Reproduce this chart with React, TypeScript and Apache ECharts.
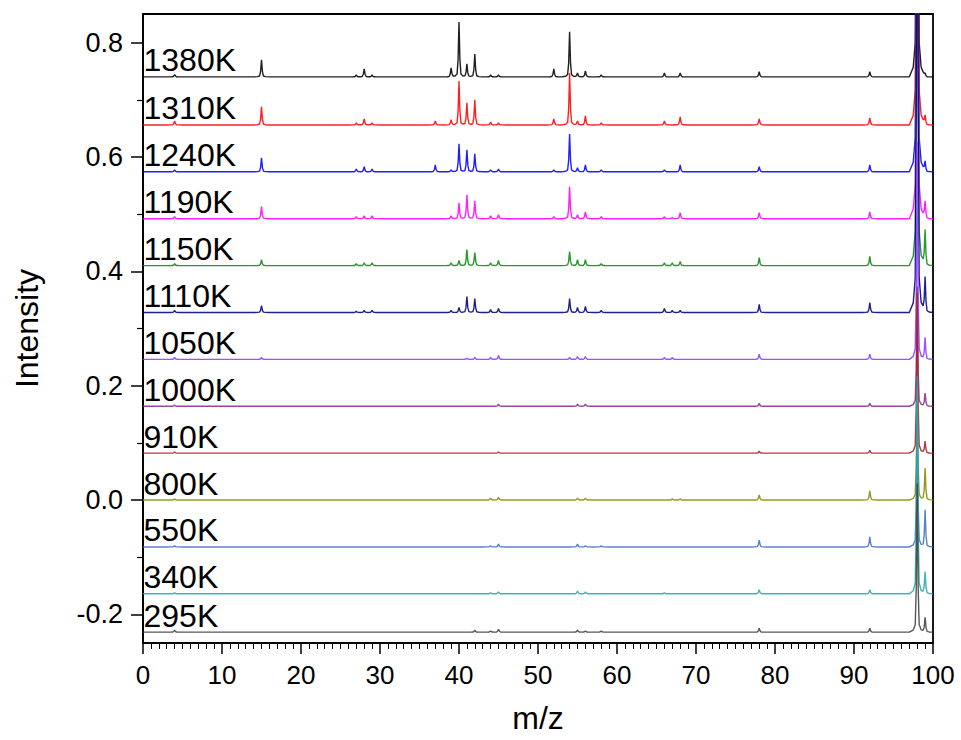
import React, { useEffect, useRef } from "react";
import * as echarts from "echarts";

// ---- data ----
const LABELS = ["1380K", "1310K", "1240K", "1190K", "1150K", "1110K", "1050K", "1000K", "910K", "800K", "550K", "340K", "295K"];
const OFFSETS = [0.74, 0.656, 0.574, 0.492, 0.41, 0.328, 0.246, 0.164, 0.082, 0.0, -0.082, -0.164, -0.231];
const COLORS = ["#000000", "#ff0000", "#0000ff", "#ff00ff", "#0a8a0a", "#000080", "#8a3cff", "#8c2a8c", "#a0222e", "#8a8a00", "#3f72bd", "#25a8a8", "#404040"];

// m/z positions of the peaks (one column per position in each height list)
const PEAK_MZ = [4, 15, 27, 28, 29, 37, 39, 40, 41, 42, 44, 45, 52, 54, 55, 56, 58, 66, 67, 68, 78, 92, 98, 99];

const H_1380K = [0.004, 0.030, 0.0035, 0.014, 0.0035, 0, 0.016, 0.096, 0.023, 0.040, 0.0035, 0.0035, 0.014, 0.079, 0.007, 0.0105, 0.0035, 0.007, 0, 0.007, 0.009, 0.009, 1.2, 0.007];
const H_1310K = [0.007, 0.0315, 0.0035, 0.0105, 0.0035, 0.007, 0.009, 0.077, 0.0385, 0.044, 0.005, 0.0035, 0.0105, 0.091, 0.007, 0.016, 0.0035, 0.007, 0, 0.014, 0.0105, 0.012, 1.2, 0.0175];
const H_1240K = [0.0035, 0.0245, 0.005, 0.009, 0.005, 0.012, 0.0035, 0.049, 0.0385, 0.0315, 0.0035, 0.005, 0.0035, 0.066, 0.007, 0.012, 0.0035, 0.0035, 0, 0.012, 0.009, 0.012, 1.2, 0.019];
const H_1190K = [0.0035, 0.021, 0.0035, 0.005, 0.005, 0, 0.005, 0.028, 0.042, 0.0315, 0.005, 0.007, 0.0035, 0.056, 0.007, 0.012, 0.0035, 0.0035, 0.002, 0.0105, 0.0105, 0.012, 1.2, 0.0315];
const H_1150K = [0.0035, 0.0105, 0.0035, 0.005, 0.005, 0, 0.005, 0.009, 0.028, 0.023, 0.005, 0.009, 0, 0.0245, 0.0105, 0.0105, 0.0035, 0.005, 0.005, 0.007, 0.014, 0.016, 1.2, 0.063];
const H_1110K = [0.0035, 0.012, 0.002, 0.0035, 0.0035, 0, 0.0035, 0.009, 0.028, 0.0245, 0.005, 0.007, 0, 0.0245, 0.009, 0.0105, 0.0035, 0.007, 0.0035, 0.0035, 0.014, 0.0175, 1.2, 0.063];
const H_1050K = [0.0035, 0.0035, 0, 0, 0, 0, 0, 0, 0.002, 0.0035, 0.0035, 0.007, 0, 0.0035, 0.005, 0.005, 0, 0.0035, 0.0035, 0, 0.009, 0.009, 0.38, 0.0385];
const H_1000K = [0.002, 0, 0, 0, 0, 0, 0, 0, 0, 0, 0, 0.0035, 0, 0, 0.0035, 0.0035, 0, 0, 0, 0, 0.005, 0.005, 0.21, 0.023];
const H_910K = [0.002, 0, 0, 0, 0, 0, 0, 0, 0, 0, 0, 0.002, 0, 0, 0, 0, 0, 0, 0, 0, 0.0035, 0.005, 0.28, 0.021];
const H_800K = [0.002, 0, 0, 0, 0, 0, 0, 0, 0, 0, 0.0035, 0.005, 0, 0, 0.0035, 0.0035, 0, 0, 0.002, 0.002, 0.009, 0.016, 0.2, 0.056];
const H_550K = [0.002, 0, 0, 0, 0, 0, 0, 0, 0, 0, 0.002, 0.005, 0, 0, 0.005, 0.002, 0.002, 0, 0, 0, 0.012, 0.0175, 0.25, 0.065];
const H_340K = [0.002, 0, 0, 0, 0, 0, 0, 0, 0, 0, 0.002, 0.0035, 0, 0, 0.005, 0.0035, 0, 0.002, 0, 0, 0.007, 0.007, 0.38, 0.0385];
const H_295K = [0.0035, 0, 0, 0, 0, 0, 0, 0, 0, 0.0035, 0.002, 0.005, 0, 0, 0.0035, 0.002, 0.002, 0, 0, 0, 0.007, 0.007, 0.26, 0.026];

const HEIGHTS = [H_1380K, H_1310K, H_1240K, H_1190K, H_1150K, H_1110K, H_1050K, H_1000K, H_910K, H_800K, H_550K, H_340K, H_295K];

const Y_MAJOR = [-0.2, 0, 0.2, 0.4, 0.6, 0.8];
const Y_MINOR = [-0.1, 0.1, 0.3, 0.5, 0.7];

// peak line shape (relative m/z offset, relative height)
const SHAPE: [number, number][] = [
  [-1.0, 0], [-0.5, 0.014], [-0.25, 0.05], [-0.12, 0.3], [0, 1],
  [0.12, 0.3], [0.25, 0.05], [0.5, 0.014], [1.0, 0],
];

function shapeAt(d: number): number {
  if (d <= SHAPE[0][0] || d >= SHAPE[SHAPE.length - 1][0]) return 0;
  for (let i = 0; i < SHAPE.length - 1; i++) {
    const [x0, y0] = SHAPE[i];
    const [x1, y1] = SHAPE[i + 1];
    if (d >= x0 && d <= x1) return y0 + ((d - x0) / (x1 - x0)) * (y1 - y0);
  }
  return 0;
}

function buildSpectrum(offset: number, heights: number[]): [number, number][] {
  const xs = new Set<number>([0, 100]);
  PEAK_MZ.forEach((m, k) => {
    if (heights[k] > 0) {
      SHAPE.forEach(([dx]) => {
        const x = +(m + dx).toFixed(3);
        if (x >= 0 && x <= 100) xs.add(x);
      });
    }
  });
  const sorted = Array.from(xs).sort((a, b) => a - b);
  return sorted.map((x) => {
    let y = offset;
    PEAK_MZ.forEach((m, k) => {
      if (heights[k] > 0) y += heights[k] * shapeAt(x - m);
    });
    return [x, y];
  });
}

const FONT = "'Liberation Sans', Arial, Helvetica, sans-serif";

export default function App() {
  const ref = useRef<HTMLDivElement>(null);
  useEffect(() => {
    if (!ref.current) return;
    const chart = echarts.init(ref.current, undefined, { renderer: "svg" });
    const series: any[] = LABELS.map((name, i) => ({
      name,
      type: "line",
      xAxisIndex: 0,
      yAxisIndex: 0,
      data: buildSpectrum(OFFSETS[i], HEIGHTS[i]),
      showSymbol: false,
      symbol: "none",
      lineStyle: { color: COLORS[i], width: 1.4, opacity: 0.88 },
      itemStyle: { color: COLORS[i] },
      clip: true,
      silent: true,
      markPoint: {
        symbol: "circle",
        symbolSize: 1,
        silent: true,
        itemStyle: { color: "rgba(0,0,0,0)" },
        data: [
          {
            coord: [0, OFFSETS[i]],
            label: {
              show: true,
              formatter: name,
              position: [1, 0],
              align: "left",
              verticalAlign: "bottom",
              color: "#000",
              fontSize: 32,
              fontFamily: FONT,
            },
          },
        ],
      },
    }));

    chart.setOption({
      animation: false,
      backgroundColor: "#fff",
      grid: {
        left: 143,
        right: 28,
        top: 14,
        bottom: 97,
        containLabel: false,
        outerBoundsMode: "none",
        show: true,
        borderColor: "#000",
        borderWidth: 1.8,
        backgroundColor: "transparent",
      },
      xAxis: {
        type: "value",
        min: 0,
        max: 100,
        interval: 10,
        name: "m/z",
        nameLocation: "middle",
        nameGap: 59,
        nameTextStyle: { color: "#000", fontSize: 32, fontFamily: FONT },
        axisLine: { show: true, onZero: false, lineStyle: { color: "#000", width: 1.8 } },
        axisTick: { show: true, inside: false, length: 11, lineStyle: { color: "#000", width: 1.5 } },
        minorTick: { show: true, splitNumber: 10, length: 6, lineStyle: { color: "#000", width: 1 } },
        axisLabel: { color: "#000", fontSize: 26, fontFamily: FONT, margin: 19 },
        splitLine: { show: false },
        minorSplitLine: { show: false },
      },
      yAxis: [
        {
          type: "value",
          min: -0.25,
          max: 0.85,
          name: "Intensity",
          nameLocation: "middle",
          nameRotate: 90,
          nameGap: 100,
          nameTextStyle: { color: "#000", fontSize: 32, fontFamily: FONT },
          axisLine: { show: true, onZero: false, lineStyle: { color: "#000", width: 1.8 } },
          axisTick: { show: true, inside: false, length: 12, customValues: Y_MAJOR, lineStyle: { color: "#000", width: 1.5 } },
          axisLabel: {
            color: "#000",
            fontSize: 27,
            fontFamily: FONT,
            margin: 20,
            customValues: Y_MAJOR,
            formatter: (v: number) => v.toFixed(1),
          },
          splitLine: { show: false },
        },
        {
          type: "value",
          min: -0.25,
          max: 0.85,
          position: "left",
          axisLine: { show: false },
          axisTick: { show: true, inside: false, length: 6, customValues: Y_MINOR, lineStyle: { color: "#000", width: 1.2 } },
          axisLabel: { show: false, customValues: Y_MINOR },
          splitLine: { show: false },
        },
      ],
      series,
    });
    return () => chart.dispose();
  }, []);
  return (
    <div
      ref={ref}
      style={{ position: "fixed", left: 0, top: 0, width: 961, height: 740, background: "#fff" }}
    />
  );
}
